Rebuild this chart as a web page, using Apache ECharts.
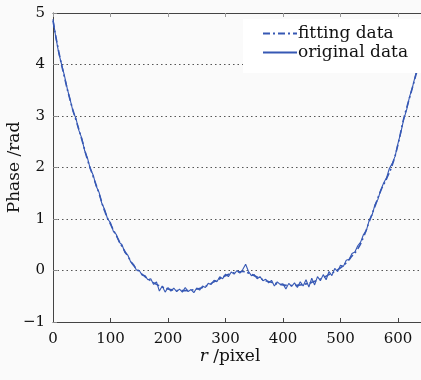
<!DOCTYPE html>
<html>
<head>
<meta charset="utf-8">
<script src="https://cdn.jsdelivr.net/npm/echarts@6/dist/echarts.min.js"></script>
<style>
html,body{margin:0;padding:0;background:#fafafa;}
#chart{width:421px;height:380px;}
</style>
</head>
<body>
<div id="chart"></div>
<script>
// Radius positions (pixel) for the fitted curve (every 10)
const fitR = [0,10,20,30,40,50,60,70,80,90,100,110,120,130,140,150,160,170,180,190,200,210,220,230,240,250,260,270,280,290,300,310,320,330,340,350,360,370,380,390,400,410,420,430,440,450,460,470,480,490,500,510,520,530,540,550,560,570,580,590,600,610,620,630,640];
const fitPhase = [4.85,4.25,3.75,3.3,2.92,2.55,2.15,1.82,1.5,1.15,0.9,0.68,0.47,0.28,0.1,-0.02,-0.12,-0.2,-0.27,-0.32,-0.36,-0.38,-0.39,-0.39,-0.38,-0.36,-0.33,-0.28,-0.22,-0.16,-0.1,-0.06,-0.03,-0.02,-0.05,-0.1,-0.15,-0.2,-0.23,-0.26,-0.28,-0.29,-0.29,-0.28,-0.26,-0.23,-0.19,-0.14,-0.08,-0.02,0.05,0.15,0.28,0.42,0.65,0.95,1.25,1.55,1.78,2.05,2.45,2.95,3.35,3.75,4.15];
// Radius positions for the original (measured) data (every 5)
const origR = [0,5,10,15,20,25,30,35,40,45,50,55,60,65,70,75,80,85,90,95,100,105,110,115,120,125,130,135,140,145,150,155,160,165,170,175,180,185,190,195,200,205,210,215,220,225,230,235,240,245,250,255,260,265,270,275,280,285,290,295,300,305,310,315,320,325,330,335,340,345,350,355,360,365,370,375,380,385,390,395,400,405,410,415,420,425,430,435,440,445,450,455,460,465,470,475,480,485,490,495,500,505,510,515,520,525,530,535,540,545,550,555,560,565,570,575,580,585,590,595,600,605,610,615,620,625,630,635,640];
const origPhase = [4.88,4.52,4.22,4.0,3.78,3.52,3.31,3.08,2.95,2.72,2.57,2.33,2.18,1.97,1.85,1.64,1.52,1.30,1.18,1.0,0.93,0.76,0.70,0.55,0.50,0.35,0.30,0.17,0.12,0.01,0.0,-0.09,-0.10,-0.18,-0.16,-0.27,-0.22,-0.40,-0.30,-0.42,-0.33,-0.40,-0.34,-0.41,-0.36,-0.42,-0.33,-0.41,-0.37,-0.43,-0.34,-0.38,-0.30,-0.33,-0.25,-0.27,-0.19,-0.22,-0.12,-0.16,-0.07,-0.12,-0.03,-0.07,0.0,-0.05,0.02,0.12,-0.02,-0.10,-0.08,-0.16,-0.12,-0.20,-0.17,-0.24,-0.19,-0.30,-0.22,-0.27,-0.26,-0.36,-0.25,-0.31,-0.24,-0.33,-0.22,-0.30,-0.18,-0.32,-0.15,-0.28,-0.12,-0.20,-0.08,-0.18,-0.02,-0.10,0.04,-0.02,0.10,0.08,0.20,0.22,0.33,0.36,0.48,0.55,0.70,0.78,0.98,1.08,1.28,1.38,1.56,1.70,1.80,1.98,2.08,2.22,2.47,2.68,2.94,3.12,3.37,3.55,3.78,3.98,4.18];
const seriesNames = ['fitting data','original data'];
const xAxisName = '{i|r} /pixel';
const yAxisName = 'Phase /rad';

const FONT = 'DejaVu Serif';
const BLUE = '#3658b4';
const AXIS = '#444';

const chart = echarts.init(document.getElementById('chart'));
chart.setOption({
  backgroundColor: '#fafafa',
  animation: false,
  grid: {left: 53, right: 0, top: 13, bottom: 58, containLabel: false, outerBoundsMode: 'none'},
  legend: {
    orient: 'vertical',
    left: 243, top: 19,
    backgroundColor: '#ffffff',
    padding: [6, 20, 12, 19],
    itemWidth: 34, itemHeight: 12, itemGap: 2,
    itemStyle: {opacity: 0},
    textStyle: {fontFamily: FONT, fontSize: 17, color: '#111', padding: [0,0,0,-4]},
    data: seriesNames
  },
  xAxis: [{
    type: 'value', min: 0, max: 640, interval: 100,
    name: xAxisName, nameLocation: 'middle', nameGap: 26, nameMoveOverlap: false,
    nameTextStyle: {fontFamily: FONT, fontSize: 17, color: '#111', padding: [0, 14, 0, 0],
      rich: {i: {fontFamily: FONT, fontSize: 17, fontStyle: 'italic', color: '#111'}}},
    axisLine: {show: true, onZero: false, lineStyle: {color: AXIS, width: 1}},
    axisTick: {show: true, inside: true, length: 4, lineStyle: {color: AXIS}},
    axisLabel: {fontFamily: FONT, fontSize: 15, color: '#111', margin: 10, showMaxLabel: false},
    splitLine: {show: false}
  }, {
    type: 'value', min: 0, max: 640, interval: 100, position: 'top',
    axisLine: {show: true, onZero: false, lineStyle: {color: AXIS, width: 1}},
    axisTick: {show: true, inside: true, length: 4, lineStyle: {color: '#999'}},
    axisLabel: {show: false},
    splitLine: {show: false}
  }],
  yAxis: {
    type: 'value', min: -1, max: 5, interval: 1,
    name: yAxisName, nameLocation: 'middle', nameGap: 30, nameRotate: 90, nameMoveOverlap: false,
    nameTextStyle: {fontFamily: FONT, fontSize: 17, color: '#111'},
    axisLine: {show: true, onZero: false, lineStyle: {color: AXIS, width: 1}},
    axisTick: {show: true, inside: true, length: 4, lineStyle: {color: '#888'}},
    axisLabel: {fontFamily: FONT, fontSize: 15, color: '#111', margin: 8,
      formatter: v => v < 0 ? '\u2212' + Math.abs(v) : String(v)},
    splitLine: {show: true, lineStyle: {color: '#555', type: [1.5, 3], width: 1}}
  },
  series: [{
    name: seriesNames[0], type: 'line', xAxisIndex: 0,
    data: fitR.map((r, i) => [r, fitPhase[i]]),
    showSymbol: false, symbol: 'none', smooth: true,
    lineStyle: {color: BLUE, width: 1.6, type: [7, 3, 2, 3]},
    itemStyle: {color: BLUE}, z: 3
  }, {
    name: seriesNames[1], type: 'line', xAxisIndex: 0,
    data: origR.map((r, i) => [r, origPhase[i]]),
    showSymbol: false, symbol: 'none',
    lineStyle: {color: BLUE, width: 1.1},
    itemStyle: {color: BLUE}, z: 2
  }]
});
</script>
</body>
</html>
